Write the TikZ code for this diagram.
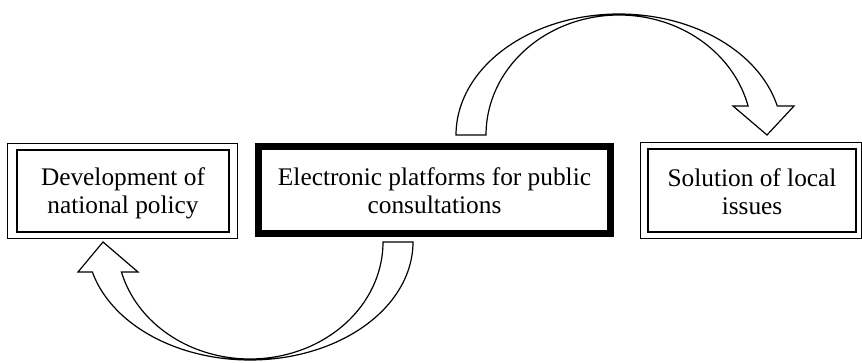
\documentclass[tikz,border=0pt]{standalone}
\usepackage{fontspec}
\setmainfont{Liberation Serif}
\begin{document}
\begin{tikzpicture}[x=0.75pt,y=-0.75pt,
  frame/.style={draw,line width=1pt,inner sep=0pt},
  boldframe/.style={draw,line width=5.25pt,inner sep=0pt},
  txt/.style={align=center,font=\fontsize{19}{21}\selectfont,inner sep=0pt},
  blockarrow/.style={draw,fill=white,line width=0.9pt,line join=miter}]
\useasboundingbox (0,0) rectangle (862,363);

% boxes
\node[frame, minimum width=159pt, minimum height=61.5pt] (L) at (123,191) {};
\draw[frame] ([shift={(-9,-6)}]L.north west) rectangle ([shift={(8,6)}]L.south east);
\node[boldframe, minimum width=264pt, minimum height=65.25pt] (M) at (434.5,190) {};
\node[frame, minimum width=156pt, minimum height=62.25pt] (R) at (752,190.5) {};
\draw[frame] ([shift={(-7,-6)}]R.north west) rectangle ([shift={(5,6)}]R.south east);

% texts
\node[txt] (Lt) at ([yshift=-2.5pt]L.center) {\strut Development of\\\strut national policy};
\node[txt] (Mt) at ([yshift=-3.3pt]M.center) {\strut Electronic platforms for public\\\strut consultations};
\node[txt] (Rt) at ([yshift=-3pt]R.center) {\strut Solution of local\\\strut issues};

% top curved arrow (middle -> right)
\draw[blockarrow] plot[domain=180:13.87,samples=90,variable=\t] ({619+163*cos(\t)},{135-121*sin(\t)})
  -- (794,106) -- (767,135) -- (733,106)
  -- plot[domain=13.98:180,samples=90,variable=\t] ({619+133*cos(\t)},{135-120*sin(\t)}) -- cycle;

% bottom curved arrow (middle -> left)
\draw[blockarrow] plot[domain=0:165.27,samples=90,variable=\t] ({250+163*cos(\t)},{242+118*sin(\t)})
  -- (78,272) -- (103,242) -- (138,272)
  -- plot[domain=165.14:0,samples=90,variable=\t] ({250+133*cos(\t)},{242+117*sin(\t)}) -- cycle;
\end{tikzpicture}
\end{document}
